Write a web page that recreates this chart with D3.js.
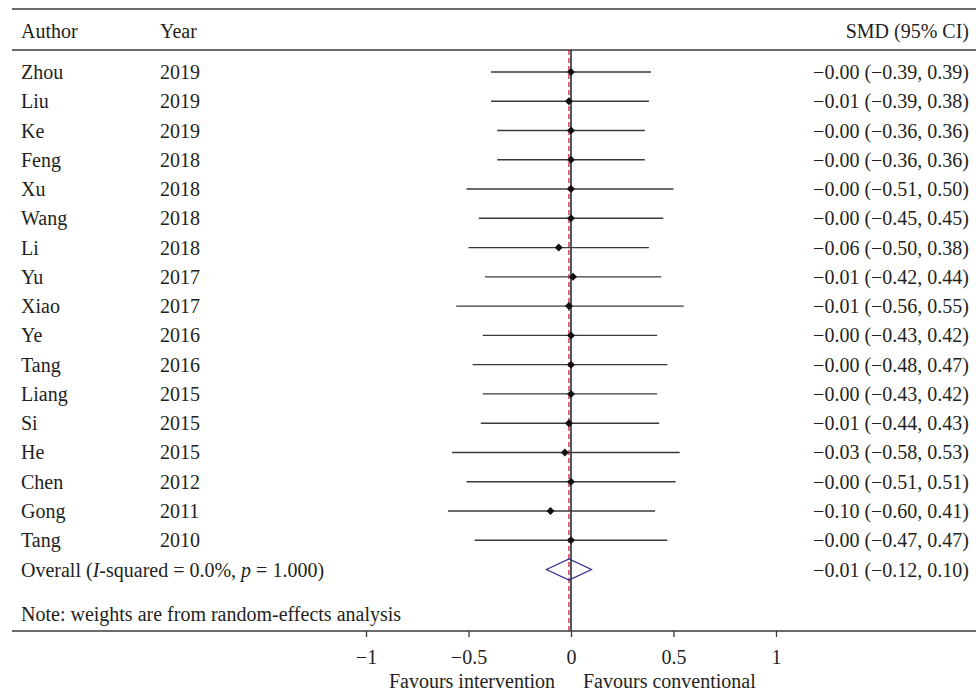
<!DOCTYPE html>
<html>
<head>
<meta charset="utf-8">
<script src="https://cdn.jsdelivr.net/npm/d3@7"></script>
<style>
  body { margin: 0; background: #fff; }
  svg { display: block; }
  text { font-family: 'Liberation Serif', 'DejaVu Serif', serif; font-size: 20px; fill: #231f20; }
  .rule { stroke: #3a3a3a; stroke-width: 1.5; }
  .ci { stroke: #3a3a3a; stroke-width: 1.4; }
</style>
</head>
<body>
<svg id="chart" width="976" height="695"></svg>
<script>
// study data
const authors = ["Zhou", "Liu", "Ke", "Feng", "Xu", "Wang", "Li", "Yu", "Xiao", "Ye",
  "Tang", "Liang", "Si", "He", "Chen", "Gong", "Tang"];
const years = [2019, 2019, 2019, 2018, 2018, 2018, 2018, 2017, 2017, 2016,
  2016, 2015, 2015, 2015, 2012, 2011, 2010];
const smd = [-0.00, -0.01, -0.00, -0.00, -0.00, -0.00, -0.06, 0.01, -0.01, -0.00,
  -0.00, -0.00, -0.01, -0.03, -0.00, -0.10, -0.00];
const lower = [-0.39, -0.39, -0.36, -0.36, -0.51, -0.45, -0.50, -0.42, -0.56, -0.43,
  -0.48, -0.43, -0.44, -0.58, -0.51, -0.60, -0.47];
const upper = [0.39, 0.38, 0.36, 0.36, 0.50, 0.45, 0.38, 0.44, 0.55, 0.42,
  0.47, 0.42, 0.43, 0.53, 0.51, 0.41, 0.47];
const labels = ["−0.00 (−0.39, 0.39)", "−0.01 (−0.39, 0.38)", "−0.00 (−0.36, 0.36)",
  "−0.00 (−0.36, 0.36)", "−0.00 (−0.51, 0.50)", "−0.00 (−0.45, 0.45)",
  "−0.06 (−0.50, 0.38)", "−0.01 (−0.42, 0.44)", "−0.01 (−0.56, 0.55)",
  "−0.00 (−0.43, 0.42)", "−0.00 (−0.48, 0.47)", "−0.00 (−0.43, 0.42)",
  "−0.01 (−0.44, 0.43)", "−0.03 (−0.58, 0.53)", "−0.00 (−0.51, 0.51)",
  "−0.10 (−0.60, 0.41)", "−0.00 (−0.47, 0.47)"];
const overall = { est: -0.01, lo: -0.12, hi: 0.10, label: "−0.01 (−0.12, 0.10)" };
const ticks = [-1, -0.5, 0, 0.5, 1];

const svg = d3.select("#chart");

const x = d3.scaleLinear().domain([-1, 1]).range([366, 776]);
const y = d3.scaleLinear().domain([0, 17]).range([72, 569.5]);

const colAuthor = 21, colYear = 160, colRight = 969;
const topY = 9, headY = 50, baseY = 631;

// rules
svg.append("line").attr("class", "rule").attr("x1", 12).attr("x2", 976).attr("y1", topY).attr("y2", topY);
svg.append("line").attr("class", "rule").attr("x1", 12).attr("x2", 976).attr("y1", headY).attr("y2", headY);

// header
svg.append("text").attr("x", colAuthor).attr("y", 31).attr("dy", "0.35em").text("Author");
svg.append("text").attr("x", colYear).attr("y", 31).attr("dy", "0.35em").text("Year");
svg.append("text").attr("x", colRight).attr("y", 31).attr("dy", "0.35em")
  .attr("text-anchor", "end").text("SMD (95% CI)");

// null line and overall dashed line
svg.append("line").attr("x1", x(0)).attr("x2", x(0)).attr("y1", headY).attr("y2", baseY)
  .attr("stroke", "#231f20").attr("stroke-width", 1.5);
svg.append("line").attr("x1", x(overall.est)).attr("x2", x(overall.est)).attr("y1", headY).attr("y2", baseY)
  .attr("stroke", "#c8102e").attr("stroke-width", 1.2).attr("stroke-dasharray", "5,3");

// rows
const rows = svg.append("g").selectAll("g").data(authors).join("g")
  .attr("transform", (d, i) => `translate(0,${y(i)})`);

rows.append("text").attr("x", colAuthor).attr("dy", "0.35em").text(d => d);
rows.append("text").attr("x", colYear).attr("dy", "0.35em").text((d, i) => years[i]);
rows.append("text").attr("x", colRight).attr("dy", "0.35em").attr("text-anchor", "end")
  .text((d, i) => labels[i]);
rows.append("line").attr("class", "ci")
  .attr("x1", (d, i) => x(lower[i])).attr("x2", (d, i) => x(upper[i]));
rows.append("path")
  .attr("d", (d, i) => { const cx = x(smd[i]); return `M${cx - 4},0L${cx},-4L${cx + 4},0L${cx},4Z`; })
  .attr("fill", "#111");

// overall row
const oy = y(17);
const ot = svg.append("text").attr("x", colAuthor).attr("y", oy).attr("dy", "0.35em");
ot.append("tspan").text("Overall (");
ot.append("tspan").attr("font-style", "italic").text("I");
ot.append("tspan").text("-squared = 0.0%, ");
ot.append("tspan").attr("font-style", "italic").text("p");
ot.append("tspan").text(" = 1.000)");
svg.append("text").attr("x", colRight).attr("y", oy).attr("dy", "0.35em")
  .attr("text-anchor", "end").text(overall.label);
svg.append("path")
  .attr("d", `M${x(overall.lo)},${oy}L${x(overall.est)},${oy - 10.5}L${x(overall.hi)},${oy}L${x(overall.est)},${oy + 10.5}Z`)
  .attr("fill", "none").attr("stroke", "#2e2a8a").attr("stroke-width", 1.2);

// note
svg.append("text").attr("x", colAuthor).attr("y", 614).attr("dy", "0.35em")
  .text("Note: weights are from random-effects analysis");

// axis
const axis = svg.append("g").attr("transform", `translate(0,${baseY})`)
  .call(d3.axisBottom(x).tickValues(ticks).tickSize(6).tickPadding(13)
    .tickFormat(d => d === 0 ? "0" : d3.format("")(d).replace("-", "−")));
axis.select(".domain").remove();
axis.selectAll(".tick line").attr("stroke", "#3a3a3a").attr("stroke-width", 1.3);
axis.selectAll(".tick text").attr("font-family", null).attr("font-size", null).attr("fill", null);
svg.append("line").attr("class", "rule").attr("x1", 12).attr("x2", 976).attr("y1", baseY).attr("y2", baseY);

svg.append("text").attr("x", x(0) - 16).attr("y", 681).attr("dy", "0.35em").attr("text-anchor", "end").text("Favours intervention");
svg.append("text").attr("x", x(0) + 12).attr("y", 681).attr("dy", "0.35em").text("Favours conventional");
</script>
</body>
</html>
